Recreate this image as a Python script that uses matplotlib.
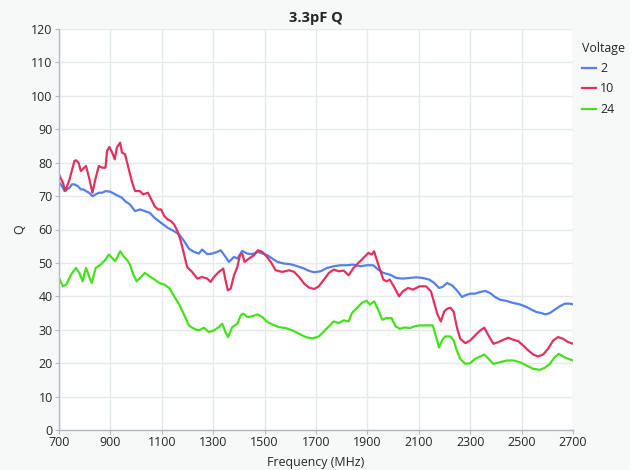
import matplotlib
matplotlib.use("Agg")
import matplotlib.pyplot as plt
from matplotlib.patches import Rectangle

# Q versus frequency for a 3.3 pF part at three bias voltages
freq_2v = [700, 703, 715, 722, 730, 741, 750, 760, 773, 785, 795, 805, 817, 830, 843, 855, 868, 881,
           900, 919, 932, 945, 957, 976, 996, 1015, 1034, 1053, 1072, 1097, 1123, 1148, 1168, 1187,
           1205, 1225, 1244, 1257, 1277, 1296, 1316, 1329, 1348, 1361, 1381, 1394, 1413, 1433, 1452,
           1472, 1491, 1511, 1530, 1550, 1576, 1602, 1628, 1654, 1673, 1693, 1718, 1743, 1769, 1795,
           1821, 1846, 1872, 1897, 1923, 1942, 1962, 1987, 2013, 2038, 2064, 2090, 2115, 2141, 2160,
           2179, 2192, 2210, 2229, 2248, 2268, 2281, 2300, 2319, 2339, 2358, 2377, 2397, 2416, 2442,
           2468, 2493, 2519, 2539, 2558, 2577, 2593, 2610, 2629, 2648, 2668, 2687, 2700]
q_2v = [74, 74, 72.5, 71.5, 72, 72.5, 73.5, 73.5, 73, 72, 72, 71.5, 71, 70, 70.5, 71, 71, 71.5,
        71.3, 70.5, 70, 69.5, 68.5, 67.5, 65.5, 66, 65.5, 65, 63.5, 62, 60.5, 59.5, 58.5, 56.5,
        54.3, 53.3, 52.8, 54, 52.6, 52.8, 53.3, 53.8, 51.8, 50.3, 51.8, 51.3, 53.6, 52.8, 52.6,
        53.3, 52.8, 52.3, 51.3, 50.3, 49.8, 49.6, 49, 48.3, 47.6, 47.2, 47.5, 48.5, 49, 49.3,
        49.3, 49.5, 49, 49.3, 49.3, 48, 47, 46.5, 45.5, 45.3, 45.5, 45.7, 45.5, 45, 44,
        42.5, 42.8, 44, 43.3, 41.8, 39.8, 40.3, 40.8, 40.8, 41.3, 41.6, 41, 39.8, 39, 38.6,
        38, 37.6, 36.8, 36, 35.3, 35, 34.6, 35, 36, 37, 37.8, 37.8, 37.6]

freq_10v = [700, 703, 715, 725, 741, 760, 766, 776, 785, 798, 805, 817, 830, 843, 855, 868, 881, 887,
            896, 907, 917, 925, 938, 945, 957, 970, 983, 996, 1015, 1027, 1046, 1059, 1072, 1085,
            1097, 1110, 1123, 1136, 1148, 1161, 1174, 1187, 1199, 1218, 1238, 1257, 1277, 1290, 1303,
            1322, 1339, 1348, 1357, 1368, 1381, 1394, 1404, 1413, 1422, 1439, 1459, 1474, 1491, 1504,
            1524, 1543, 1569, 1595, 1615, 1634, 1654, 1673, 1693, 1711, 1731, 1750, 1769, 1788, 1808,
            1827, 1846, 1865, 1885, 1904, 1917, 1926, 1936, 1949, 1962, 1974, 1987, 2006, 2023, 2038,
            2058, 2077, 2103, 2128, 2147, 2160, 2173, 2186, 2199, 2211, 2223, 2236, 2248, 2261, 2281,
            2300, 2319, 2339, 2355, 2371, 2390, 2410, 2429, 2448, 2468, 2487, 2506, 2526, 2545, 2564,
            2584, 2603, 2623, 2642, 2661, 2681, 2700]
q_10v = [76.5, 76, 74, 71.5, 75, 80.5, 80.7, 80, 77.5, 78.5, 79, 75.5, 71, 75.5, 79, 78.5, 78.5, 83.5,
         84.7, 83, 81, 84.5, 86, 83, 82.5, 78.5, 74.5, 71.5, 71.5, 70.5, 71, 69, 67, 66,
         66, 64, 63, 62.5, 61.5, 59.5, 56.5, 52.5, 48.7, 47.3, 45.3, 45.8, 45.3, 44.3, 45.8,
         47.3, 48.3, 44.8, 41.8, 42.3, 46.3, 48.8, 52.3, 52.8, 50.3, 51.3, 52.3, 53.8, 53.3, 52.3,
         50.3, 47.8, 47.3, 47.8, 47.3, 45.8, 43.8, 42.6, 42.2, 43, 45, 47, 48, 47.5, 47.7,
         46.3, 48.5, 50, 51.5, 53, 52.5, 53.5, 51, 48, 45, 44.5, 45, 42.5, 40, 41.5,
         42.5, 42, 43, 43, 41.5, 38, 34.5, 32.5, 35.5, 36.3, 36.6, 35.3, 30.8, 27.3, 26,
         26.8, 28.3, 29.8, 30.6, 28.3, 25.8, 26.3, 27, 27.6, 27, 26.6, 25.3, 23.8, 22.6, 22,
         22.6, 24.3, 26.8, 27.8, 27.3, 26.3, 25.8]

freq_24v = [700, 703, 715, 728, 747, 766, 779, 792, 805, 817, 827, 843, 862, 881, 894, 907, 919, 938,
            951, 964, 976, 989, 1002, 1015, 1034, 1053, 1072, 1091, 1110, 1129, 1148, 1168, 1187,
            1205, 1225, 1244, 1264, 1283, 1303, 1322, 1335, 1348, 1358, 1374, 1394, 1407, 1417, 1433,
            1452, 1472, 1491, 1511, 1530, 1556, 1582, 1608, 1634, 1660, 1686, 1711, 1731, 1750, 1769,
            1788, 1808, 1827, 1840, 1859, 1878, 1897, 1910, 1926, 1942, 1958, 1974, 1994, 2010, 2026,
            2045, 2064, 2083, 2103, 2128, 2154, 2167, 2179, 2192, 2203, 2223, 2236, 2248, 2261, 2281,
            2300, 2319, 2339, 2355, 2371, 2390, 2416, 2442, 2468, 2493, 2519, 2545, 2571, 2590, 2610,
            2629, 2645, 2661, 2681, 2700]
q_24v = [45.5, 45, 43, 43.5, 46.5, 48.5, 47, 44.5, 48.5, 46, 44, 48.5, 49.5, 51, 52.5, 51.5, 50.5, 53.5,
         52, 51, 49.5, 46.5, 44.5, 45.5, 47, 46, 45, 44, 43.5, 42.5, 40, 37.5, 34.5,
         31.3, 30.3, 29.8, 30.6, 29.3, 29.8, 30.8, 31.8, 29.3, 27.8, 30.8, 31.8, 34.3, 34.8, 33.8,
         34, 34.6, 33.8, 32.3, 31.6, 30.8, 30.5, 29.8, 28.8, 27.8, 27.4, 28, 29.5, 31, 32.5,
         32, 32.8, 32.5, 35, 36.5, 38, 38.7, 37.5, 38.5, 36, 33, 33.5, 33.5, 31, 30.3,
         30.7, 30.5, 31, 31.3, 31.3, 31.3, 28, 24.7, 27, 28, 28, 26.8, 23.8, 21.3, 19.8,
         20, 21.3, 22, 22.6, 21.3, 19.8, 20.3, 20.8, 20.8, 20.3, 19.3, 18.3, 18, 18.6, 19.8,
         21.8, 22.8, 22, 21.3, 20.8]

voltages = ["2", "10", "24"]
colors = ["#557fea", "#e0325f", "#45e21c"]
x_ticks = [700, 900, 1100, 1300, 1500, 1700, 1900, 2100, 2300, 2500, 2700]
y_ticks = list(range(0, 121, 10))

plt.rcParams["font.family"] = ["Open Sans", "DejaVu Sans"]
text_color = "#262626"
fs = 8.9

fig = plt.figure(figsize=(6.37, 4.70), dpi=100, facecolor="white")
fig.patches.append(Rectangle((0, 0), 630 / 637, 1.0, transform=fig.transFigure,
                             facecolor="#f7f8f8", edgecolor="none", zorder=-10))
ax = fig.add_axes([59 / 637, 1 - 430 / 470, (573 - 59) / 637, (430 - 29) / 470])
ax.set_facecolor("white")

for fx, qy, lab, col in zip([freq_2v, freq_10v, freq_24v], [q_2v, q_10v, q_24v], voltages, colors):
    ax.plot(fx, qy, color=col, lw=1.6, label=lab, solid_joinstyle="round")

ax.set_xlim(700, 2700)
ax.set_ylim(0, 120)
ax.set_xticks(x_ticks)
ax.set_yticks(y_ticks)
ax.grid(True, color="#e4e9eb", lw=1.0)
ax.set_axisbelow(True)
for side in ["top", "right"]:
    ax.spines[side].set_visible(False)
for side in ["left", "bottom"]:
    ax.spines[side].set_color("#b0babf")
    ax.spines[side].set_linewidth(1.0)
ax.tick_params(axis="both", colors="#b0babf", labelcolor=text_color, labelsize=fs, length=3, pad=1.5)

ax.set_title("3.3pF Q", fontsize=10.5, fontweight="bold", color=text_color, pad=5)
ax.set_xlabel("Frequency (MHz)", fontsize=fs, color=text_color, labelpad=5)
ax.set_ylabel("Q", fontsize=fs, color=text_color, labelpad=4)

leg = ax.legend(title="Voltage", loc="upper left", bbox_to_anchor=(1.0, 0.99), frameon=False,
                fontsize=fs, title_fontsize=fs, handlelength=1.2, handletextpad=0.3,
                labelspacing=0.6, borderaxespad=0.3, alignment="left")
for t in leg.get_texts():
    t.set_color(text_color)
leg.get_title().set_color(text_color)

fig.savefig("out.png", dpi=100, facecolor=fig.get_facecolor())
